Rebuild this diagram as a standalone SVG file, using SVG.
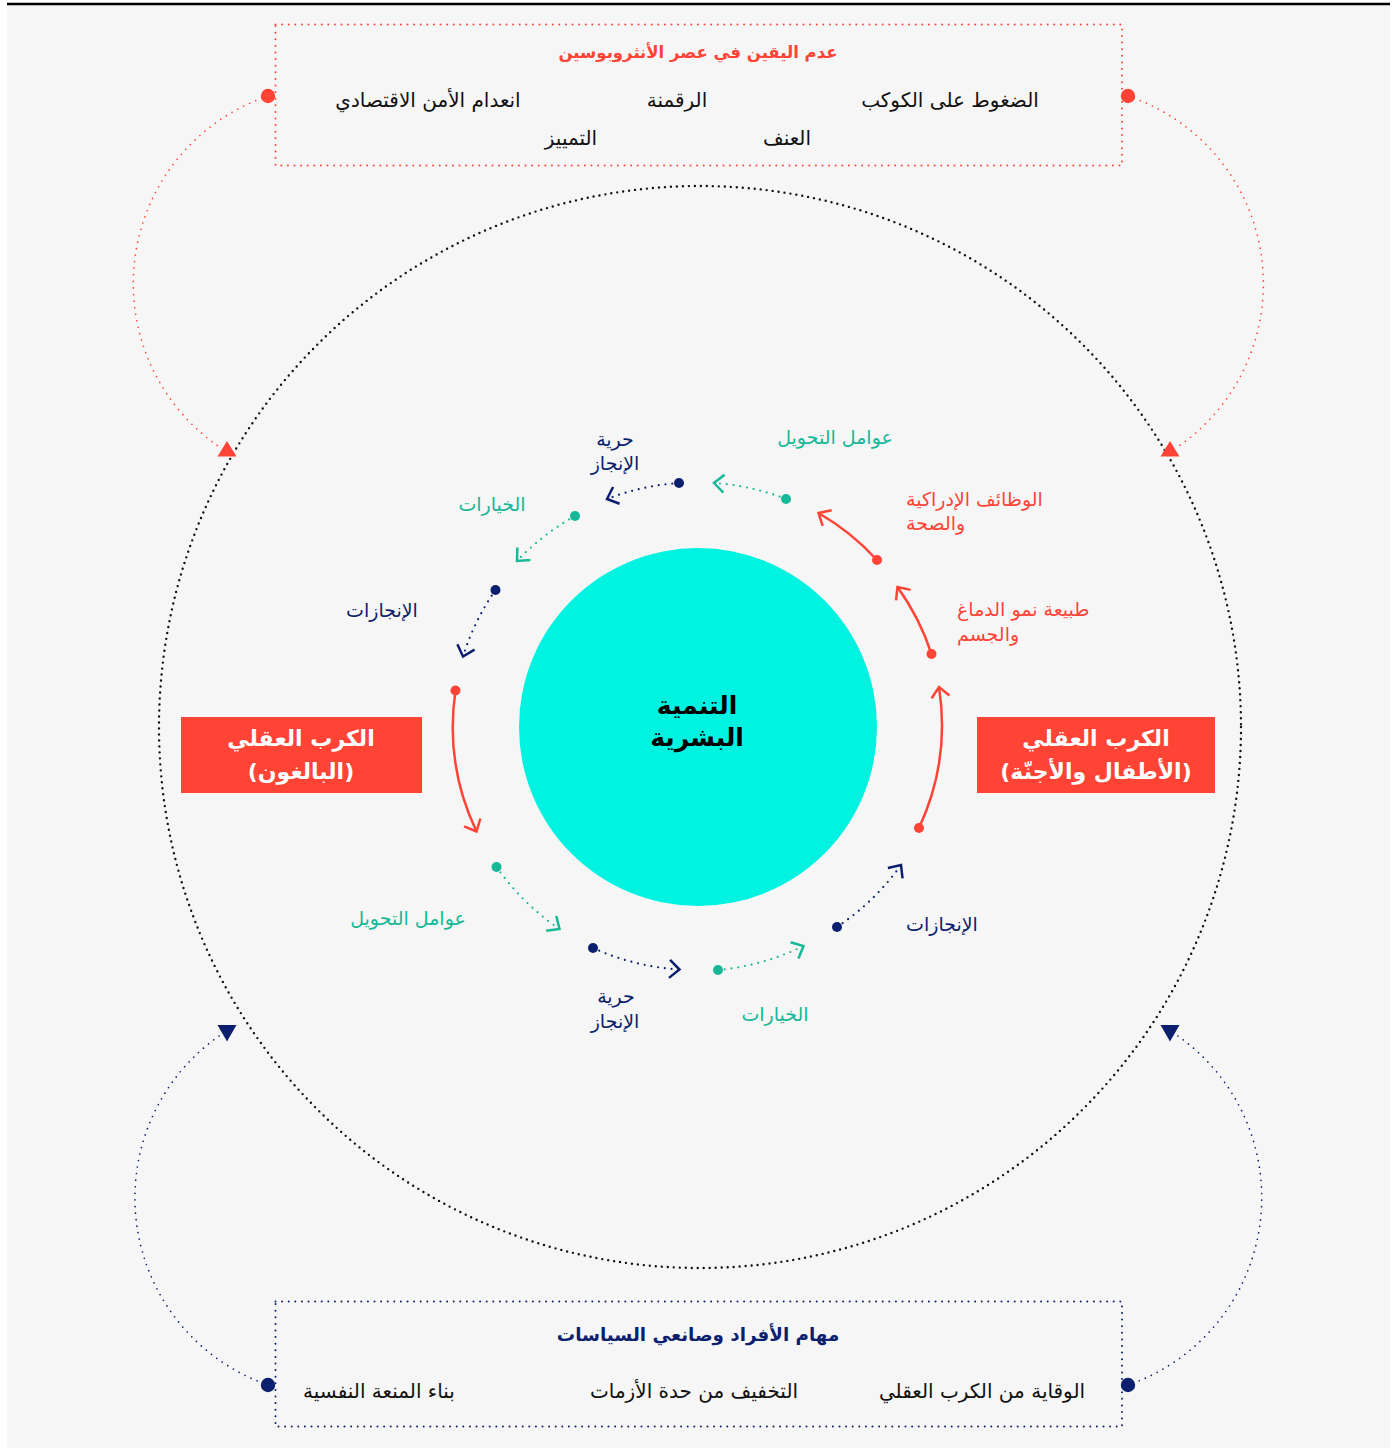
<svg xmlns="http://www.w3.org/2000/svg" width="1395" height="1448" viewBox="0 0 1395 1448">
  <style>
    text { font-family: "DejaVu Sans", "Noto Sans", sans-serif; }
    .item { font-size: 20px; fill: #111111; }
    .ttl { font-size: 16.5px; font-weight: bold; }
    .ttl-lg { font-size: 18.3px; }
    .lbl { font-size: 19px; }
    .red { fill: #ff4436; }
    .grn { fill: #17b897; }
    .nav { fill: #0c1f6e; }
    .boxtxt { font-size: 22px; font-weight: bold; fill: #ffffff; }
    .dotred { fill: none; stroke: #ff4436; stroke-width: 1.7; stroke-linecap: round; stroke-dasharray: 0 6.6; }
    .dotnav { fill: none; stroke: #0c1f6e; stroke-width: 1.7; stroke-linecap: round; stroke-dasharray: 0 6.6; }
    .frame-red { fill: none; stroke: #ff4436; stroke-width: 2; stroke-linecap: round; stroke-dasharray: 0 6.6; }
    .frame-nav { fill: none; stroke: #0c1f6e; stroke-width: 2; stroke-linecap: round; stroke-dasharray: 0 6.6; }
    .ring { fill: none; stroke: #111111; stroke-width: 2.4; stroke-linecap: round; stroke-dasharray: 0 6; }
    .solid-red { fill: none; stroke: #ff4436; stroke-width: 2.5; marker-end: url(#chev-red); }
    .dash-grn { fill: none; stroke: #17b897; stroke-width: 2.2; stroke-linecap: round; stroke-dasharray: 0 6.8; marker-end: url(#chev-grn); }
    .dash-nav { fill: none; stroke: #0c1f6e; stroke-width: 2.2; stroke-linecap: round; stroke-dasharray: 0 6.8; marker-end: url(#chev-nav); }
  </style>
  <defs>
    <marker id="chev-red" markerUnits="userSpaceOnUse" viewBox="-14 -12 16 24" refX="0" refY="0" markerWidth="16" markerHeight="24" orient="auto" overflow="visible">
      <path d="M-10,-9 L0,0 L-10,9" fill="none" stroke="#ff4436" stroke-width="2.5"/>
    </marker>
    <marker id="chev-grn" markerUnits="userSpaceOnUse" viewBox="-14 -12 16 24" refX="0" refY="0" markerWidth="16" markerHeight="24" orient="auto" overflow="visible">
      <path d="M-10,-9 L0,0 L-10,9" fill="none" stroke="#17b897" stroke-width="2.5"/>
    </marker>
    <marker id="chev-nav" markerUnits="userSpaceOnUse" viewBox="-14 -12 16 24" refX="0" refY="0" markerWidth="16" markerHeight="24" orient="auto" overflow="visible">
      <path d="M-10,-9 L0,0 L-10,9" fill="none" stroke="#0c1f6e" stroke-width="2.5"/>
    </marker>
  </defs>

  <!-- page -->
  <rect x="0" y="0" width="1395" height="1448" fill="#ffffff"/>
  <rect x="7" y="5" width="1383" height="1443" fill="#f6f6f6"/>
  <line x1="7" y1="4" x2="1390" y2="4" stroke="#000000" stroke-width="2.5"/>

  <!-- outer dotted ring -->
  <circle class="ring" cx="700" cy="727" r="541"/>

  <!-- connectors -->
  <g id="connectors">
    <!-- outer loops -->
    <path class="dotred" d="M268,96 A198,198 0 0 0 218,446"/>
    <path class="dotred" d="M1128,96 A198,198 0 0 1 1179,446"/>
    <path class="dotnav" d="M219,1036 A198,198 0 0 0 268,1385"/>
    <path class="dotnav" d="M1178,1036 A198,198 0 0 1 1128,1385"/>
    <polygon points="227,441 217.5,456.5 236.5,456.5" fill="#ff4436"/>
    <polygon points="1170,441 1160.5,456.5 1179.5,456.5" fill="#ff4436"/>
    <polygon points="217.5,1025 236.5,1025 227,1041.5" fill="#0c1f6e"/>
    <polygon points="1160.5,1025 1179.5,1025 1170,1041.5" fill="#0c1f6e"/>
    <circle cx="268" cy="96" r="7.2" fill="#ff4436"/>
    <circle cx="1128" cy="96" r="7.2" fill="#ff4436"/>
    <circle cx="268" cy="1385" r="7.2" fill="#0c1f6e"/>
    <circle cx="1128" cy="1385" r="7.2" fill="#0c1f6e"/>

    <!-- inner cycle -->
    <path class="solid-red" d="M919,828 A245,245 0 0 0 939,687"/>
    <path class="solid-red" d="M931.5,654 A245,245 0 0 0 897.5,587"/>
    <path class="solid-red" d="M877,560 A245,245 0 0 0 818.5,513"/>
    <path class="dash-grn" d="M786,499 A245,245 0 0 0 714,483"/>
    <path class="dash-nav" d="M679,483 A245,245 0 0 0 607,499"/>
    <path class="dash-grn" d="M575,516 A245,245 0 0 0 517,561"/>
    <path class="dash-nav" d="M495.5,590 A245,245 0 0 0 463,656.5"/>
    <path class="solid-red" d="M455.5,690.5 A245,245 0 0 0 476.5,831.5"/>
    <path class="dash-grn" d="M496.5,867 A245,245 0 0 0 559.5,929"/>
    <path class="dash-nav" d="M593,948 A245,245 0 0 0 679.5,969.5"/>
    <path class="dash-grn" d="M718,970 A245,245 0 0 0 803.5,946"/>
    <path class="dash-nav" d="M837,927 A245,245 0 0 0 901,865"/>
    <circle cx="919" cy="828" r="5" fill="#ff4436"/>
    <circle cx="931.5" cy="654" r="5" fill="#ff4436"/>
    <circle cx="877" cy="560" r="5" fill="#ff4436"/>
    <circle cx="786" cy="499" r="5" fill="#17b897"/>
    <circle cx="679" cy="483" r="5" fill="#0c1f6e"/>
    <circle cx="575" cy="516" r="5" fill="#17b897"/>
    <circle cx="495.5" cy="590" r="5" fill="#0c1f6e"/>
    <circle cx="455.5" cy="690.5" r="5" fill="#ff4436"/>
    <circle cx="496.5" cy="867" r="5" fill="#17b897"/>
    <circle cx="593" cy="948" r="5" fill="#0c1f6e"/>
    <circle cx="718" cy="970" r="5" fill="#17b897"/>
    <circle cx="837" cy="927" r="5" fill="#0c1f6e"/>
  </g>

  <!-- pressures box -->
  <g id="pressures">
    <rect class="frame-red" x="275.5" y="24.5" width="846.5" height="141"/>
    <text class="ttl red" x="698" y="58" text-anchor="middle">عدم اليقين في عصر الأنثروبوسين</text>
    <text class="item" x="950" y="107" text-anchor="middle">الضغوط على الكوكب</text>
    <text class="item" x="677" y="107" text-anchor="middle">الرقمنة</text>
    <text class="item" x="428" y="107" text-anchor="middle">انعدام الأمن الاقتصادي</text>
    <text class="item" x="787" y="145" text-anchor="middle">العنف</text>
    <text class="item" x="571" y="145" text-anchor="middle">التمييز</text>
  </g>

  <!-- tasks box -->
  <g id="tasks">
    <rect class="frame-nav" x="275.5" y="1301.5" width="846.5" height="125"/>
    <text class="ttl ttl-lg nav" x="698" y="1341" text-anchor="middle">مهام الأفراد وصانعي السياسات</text>
    <text class="item" x="982" y="1398" text-anchor="middle">الوقاية من الكرب العقلي</text>
    <text class="item" x="694" y="1398" text-anchor="middle">التخفيف من حدة الأزمات</text>
    <text class="item" x="379" y="1398" text-anchor="middle">بناء المنعة النفسية</text>
  </g>

  <!-- centre -->
  <g id="human-development">
    <circle cx="698" cy="727" r="179" fill="#00f2e0"/>
    <text x="697" y="714" text-anchor="middle" font-size="25" font-weight="bold" fill="#000000">التنمية</text>
    <text x="697" y="746" text-anchor="middle" font-size="25" font-weight="bold" fill="#000000">البشرية</text>
  </g>

  <!-- distress, adults -->
  <g id="distress-adults">
    <rect x="181" y="717" width="241" height="76" fill="#ff4436"/>
    <text class="boxtxt" x="301" y="746" text-anchor="middle">الكرب العقلي</text>
    <text class="boxtxt" x="301" y="779" text-anchor="middle">(البالغون)</text>
  </g>

  <!-- distress, children and foetuses -->
  <g id="distress-children">
    <rect x="977" y="717" width="238" height="76" fill="#ff4436"/>
    <text class="boxtxt" x="1096" y="746" text-anchor="middle">الكرب العقلي</text>
    <text class="boxtxt" x="1096" y="779" text-anchor="middle">(الأطفال والأجنّة)</text>
  </g>

  <!-- cycle labels -->
  <g id="cycle-labels">
    <text class="lbl grn" x="835" y="444" text-anchor="middle">عوامل التحويل</text>
    <text class="lbl nav" x="615" y="446" text-anchor="middle">حرية</text>
    <text class="lbl nav" x="615" y="470" text-anchor="middle">الإنجاز</text>
    <text class="lbl grn" x="492" y="511" text-anchor="middle">الخيارات</text>
    <text class="lbl nav" x="382" y="617" text-anchor="middle">الإنجازات</text>
    <text class="lbl red" x="906" y="506">الوظائف الإدراكية</text>
    <text class="lbl red" x="906" y="530">والصحة</text>
    <text class="lbl red" x="957" y="616">طبيعة نمو الدماغ</text>
    <text class="lbl red" x="957" y="641">والجسم</text>
    <text class="lbl nav" x="942" y="931" text-anchor="middle">الإنجازات</text>
    <text class="lbl grn" x="775" y="1021" text-anchor="middle">الخيارات</text>
    <text class="lbl nav" x="616" y="1003" text-anchor="middle">حرية</text>
    <text class="lbl nav" x="615" y="1028" text-anchor="middle">الإنجاز</text>
    <text class="lbl grn" x="408" y="925" text-anchor="middle">عوامل التحويل</text>
  </g>
</svg>
